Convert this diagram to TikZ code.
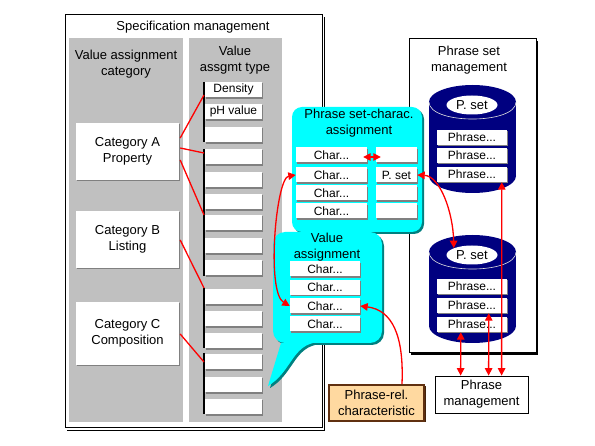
\documentclass[tikz,border=0pt]{standalone}
\usepackage{fontspec}
\setmainfont{Liberation Sans}
\usetikzlibrary{shapes.geometric,arrows.meta,shadows,calc}
\definecolor{silv}{HTML}{C0C0C0}
\definecolor{navyc}{HTML}{000080}
\definecolor{cyc}{HTML}{00FFFF}
\definecolor{tealc}{HTML}{008080}
\definecolor{peach}{HTML}{FFD9A0}
\definecolor{brownc}{HTML}{603010}
\definecolor{redc}{HTML}{FF0000}
\definecolor{shg}{HTML}{808080}
\begin{document}
\begin{tikzpicture}[x=1pt,y=-1pt,
  bigtxt/.style={font=\fontsize{13}{16}\selectfont},
  smalltxt/.style={font=\fontsize{12}{13}\selectfont},
  wbox/.style={fill=white, inner sep=0, smalltxt,
    drop shadow={shadow xshift=1.2pt,shadow yshift=-1.2pt,fill=shg,opacity=1}},
  vt/.style={wbox, minimum width=57, minimum height=15.5},
  catbox/.style={wbox, bigtxt, align=center, minimum width=103},
  rowbox/.style={wbox, minimum height=15},
  tshadow/.style={drop shadow={shadow xshift=2pt,shadow yshift=-2pt,fill=tealc,opacity=1}},
  kshadow/.style={drop shadow={shadow xshift=2pt,shadow yshift=-2pt,fill=black,opacity=1}},
  redl/.style={draw=redc, line width=1.3pt},
  rarr/.style={redl, arrows={Triangle[length=7.5pt,width=7.5pt]-Triangle[length=7.5pt,width=7.5pt]}},
  rone/.style={redl, arrows={-Triangle[length=7.5pt,width=7.5pt]}},
  seg/.style={line width=2pt}
]
\useasboundingbox (0,0) rectangle (595,446);
\fill[white] (0,0) rectangle (595,446);

% Specification management
\draw[fill=white, line width=1pt] (65,15) rectangle (322,428);
\draw[line width=1pt] (67,430.5) -- (324.5,430.5) -- (324.5,17);
\node[bigtxt] (spect) at (193,27) {Specification management};
\fill[silv] (69,38) rectangle (183,422);
\fill[silv] (189,38) rectangle (282,422);
\node[bigtxt, align=center] (vac) at (126,64.5) {Value assignment\\category};
\node[bigtxt, align=center] (vat) at (235,60) {Value\\assgmt type};

\node[catbox, minimum height=57] (catA) at (127.5,151.5) {Category A\\Property};
\node[catbox, minimum height=57] (catB) at (127.5,239.5) {Category B\\Listing};
\node[catbox, minimum height=63] (catC) at (127.5,333.5) {Category C\\Composition};

\foreach \t/\l [count=\i] in {82/Density,104/pH value,127/,149/,172/,194/,215/,238/,260/,289/,311/,333/,354/,377/,399/}
  \node[vt] (vt\i) at (233.5,\t+7.75) {\l};

\draw[seg] (203.5,82) -- (203.5,142);
\draw[seg] (203.5,149) -- (203.5,276);
\draw[seg] (203.5,288) -- (203.5,348);
\draw[seg] (203.5,353) -- (203.5,414);

\coordinate (ta1) at (204,95);
\coordinate (ta2) at (204,153);
\coordinate (ta3) at (204,215);
\coordinate (tb1) at (204,288);
\coordinate (tc1) at (204,362);
\draw[redl] ($(catA.east)+(1,-13.5)$) -- (ta1);
\draw[redl] ($(catA.east)+(1,-3.5)$) -- (ta2);
\draw[redl] ($(catA.east)+(1,8.5)$) -- (ta3);
\draw[redl] ($(catB.east)+(1,0.5)$) -- (tb1);
\draw[redl] ($(catC.east)+(1,0.5)$) -- (tc1);

% Phrase set management
\draw[fill=white, line width=1pt, kshadow] (409,39) rectangle (536,353);
\node[bigtxt, align=center] (psm) at (469,60) {Phrase set\\management};

\foreach \a/\b/\n/\p in {102/176/1/105, 252/326/2/255}{
  \fill[navyc] (429,\a) rectangle (516,\b);
  \fill[navyc] (472.5,\a) ellipse [x radius=43.5pt, y radius=17pt];
  \fill[navyc] (472.5,\b) ellipse [x radius=43.5pt, y radius=17pt];
  \draw[white!75!gray, line width=0.6pt] (429,\a) .. controls (429,\a+22.7) and (516,\a+22.7) .. (516,\a);
  \node[ellipse, fill=white, minimum width=51, minimum height=19, inner sep=0, bigtxt] (ps\n) at (472,\p) {P. set};
}
\foreach \y [count=\i] in {137.5,155.5,174.5}
  \node[rowbox, minimum width=70] (ph1\i) at (472,\y) {Phrase...};
\foreach \y [count=\i] in {286.5,305.5,324.5}
  \node[rowbox, minimum width=70] (ph2\i) at (472,\y) {Phrase...};

\node[draw, fill=white, line width=0.8pt, bigtxt, align=center, minimum width=93, minimum height=37, inner sep=0] (pm) at (481.5,394.5) {Phrase\\management};

% Phrase set-charac. assignment callout
\fill[cyc, rounded corners=10, tshadow] (292,107) rectangle (422,232);
\node[bigtxt, align=center] (psct) at (359,123.5) {Phrase set-charac.\\assignment};
\foreach \y [count=\i] in {155,175,193,211}{
  \node[rowbox, minimum width=71] (l\i) at (331.5,\y) {Char...};
}
\foreach \y/\l [count=\i] in {155/,175/P. set,193/,211/}{
  \node[rowbox, minimum width=41] (r\i) at (396.5,\y) {\l};
}

% Value assignment callout
\fill[cyc, rounded corners=12, tshadow] (273,232) rectangle (382,343);
\fill[cyc, tshadow] (281,343) -- (268,386) .. controls (290,373) and (292,348) .. (313,343) -- cycle;
\node[bigtxt, align=center] (vat2) at (327,247.5) {Value\\assignment};
\foreach \y [count=\i] in {269,287.5,306,324}
  \node[rowbox, minimum width=70] (v\i) at (325,\y) {Char...};

% Phrase-rel. characteristic
\node[draw=brownc, line width=2pt, fill=peach, bigtxt, align=center, minimum width=95, minimum height=36, inner sep=0,
  drop shadow={shadow xshift=1.5pt,shadow yshift=-1.5pt,fill=brownc!70!black,opacity=1}] (prc) at (376.5,403) {Phrase-rel.\\characteristic};

% arrows
\draw[rarr] ($(l1.east)+(-4,2)$) -- ($(r1.west)+(5,2)$);
\draw[rarr] (l2.west) .. controls (276,178) and (266,292) .. (v3.west);
\draw[rone] ($(prc.north)+(25.5,0)$) .. controls (404,335) and (392,310) .. (v3.east);
\draw[rarr] (r2.east) .. controls (440,176) and (453,212) .. (ps2.north west);
\draw[rarr] ($(ph13.south west)+(65,0)$) -- ($(pm.north west)+(67,0)$);
\draw[rarr] ($(ph22.south west)+(52,0)$) -- ($(pm.north west)+(54,0)$);
\draw[rarr] ($(ph23.south west)+(24,0)$) -- ($(pm.north west)+(26,0)$);
\end{tikzpicture}
\end{document}
